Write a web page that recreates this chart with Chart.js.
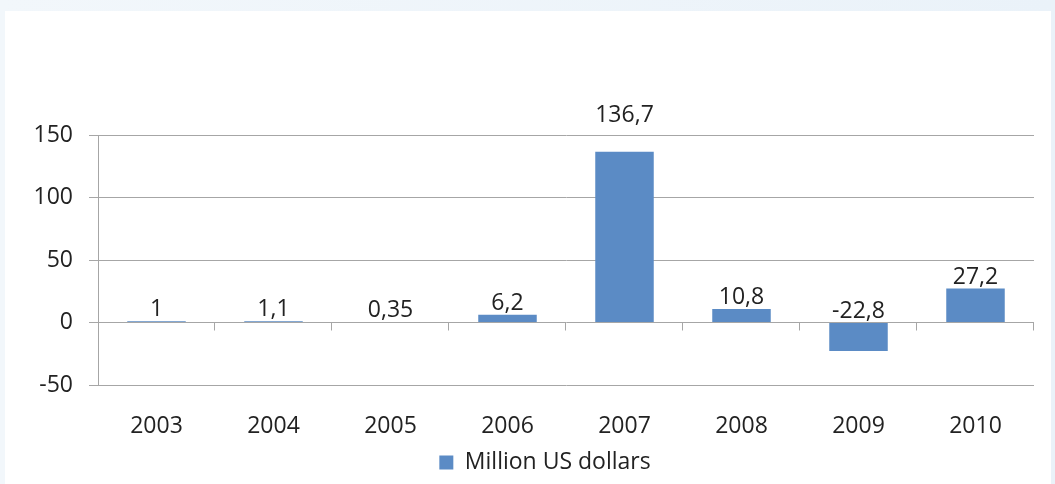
<!DOCTYPE html>
<html>
<head>
<meta charset="utf-8">
<script src="https://cdn.jsdelivr.net/npm/chart.js@4.4.1/dist/chart.umd.min.js"></script>
<style>
  html, body { margin: 0; padding: 0; }
  body { width: 1055px; height: 484px; background: linear-gradient(90deg, #f2f7fb, #eaf2f9); position: relative; overflow: hidden; }
  #paper { position: absolute; left: 5px; top: 11px; width: 1046px; height: 473px; background: #fff; }
  #wrap { position: absolute; left: 0; top: 0; width: 1055px; height: 484px; }
</style>
</head>
<body>
<div id="paper"></div>
<div id="wrap"><canvas id="chart" width="1055" height="484"></canvas></div>
<script>
// data
const years = ["2003", "2004", "2005", "2006", "2007", "2008", "2009", "2010"];
const values = [1, 1.1, 0.35, 6.2, 136.7, 10.8, -22.8, 27.2];
const valueLabels = ["1", "1,1", "0,35", "6,2", "136,7", "10,8", "-22,8", "27,2"];
const seriesName = "Million US dollars";
const yTicks = [-50, 0, 50, 100, 150];

const FONT = "'Open Sans', Lato, sans-serif";
const FSIZE = 23;
const TEXT = "#222";
const GRID = "#a6a6a6";
const PLOT_BOTTOM = 385;

// value labels above each bar (negative ones sit above the zero line)
const barLabels = {
    id: "barLabels",
    afterDatasetsDraw(chart) {
        const ctx = chart.ctx;
        const meta = chart.getDatasetMeta(0);
        const area = chart.chartArea;
        ctx.save();
        ctx.font = FSIZE + "px " + FONT;
        ctx.fillStyle = TEXT;
        ctx.textAlign = "center";
        ctx.textBaseline = "alphabetic";
        meta.data.forEach((bar, i) => {
            let top = Math.min(bar.y, bar.base);
            let y = top - 5;
            // if it would run into the top gridline, lift it above the plot
            if (y - 16 < area.top + 2) y = area.top - 13;
            ctx.fillText(valueLabels[i], bar.x, y);
        });
        ctx.restore();
    }
};

// little category tick marks hanging off the zero line
const zeroTicks = {
    id: "zeroTicks",
    afterDraw(chart) {
        const ctx = chart.ctx;
        const x = chart.scales.x;
        const y0 = chart.scales.y.getPixelForValue(0);
        const w = (x.right - x.left) / years.length;
        ctx.save();
        ctx.strokeStyle = GRID;
        ctx.lineWidth = 1;
        ctx.beginPath();
        for (let i = 1; i <= years.length; i++) {
            let px = Math.round(x.left + i * w) - 0.5;
            ctx.moveTo(px, y0);
            ctx.lineTo(px, y0 + 8);
        }
        ctx.stroke();
        ctx.restore();
    }
};

// legend sits a bit right of centre in the original
const legendShift = {
    id: "legendShift",
    afterLayout(chart) {
        chart.legend.left += 28;
        chart.legend.right += 28;
    }
};

new Chart(document.getElementById("chart"), {
    type: "bar",
    data: {
        labels: years,
        datasets: [{
            label: seriesName,
            data: values,
            backgroundColor: "#5b8bc5",
            borderWidth: 0,
            barPercentage: 0.5,
            categoryPercentage: 1.0
        }]
    },
    options: {
        responsive: false,
        animation: false,
        devicePixelRatio: 1,
        layout: { padding: { top: 135, left: 0, right: 21, bottom: 0 } },
        plugins: {
            legend: {
                position: "bottom",
                labels: {
                    color: TEXT,
                    font: { family: FONT, size: FSIZE },
                    boxWidth: 14,
                    boxHeight: 14,
                    padding: 5
                }
            },
            tooltip: { enabled: false }
        },
        scales: {
            x: {
                grid: { display: false, drawTicks: false },
                border: { display: false },
                afterFit(scale) {
                    let lh = scale.chart.legend ? scale.chart.legend.height : 40;
                    scale.height = scale.chart.height - PLOT_BOTTOM - lh;
                },
                ticks: {
                    color: TEXT,
                    font: { family: FONT, size: FSIZE },
                    padding: 28
                }
            },
            y: {
                min: -50,
                max: 150,
                afterBuildTicks(scale) {
                    scale.ticks = yTicks.map(v => ({ value: v }));
                },
                afterFit(scale) { scale.width = 98; },
                grid: { color: GRID, tickLength: 9, lineWidth: 1 },
                border: { color: GRID },
                ticks: {
                    color: TEXT,
                    font: { family: FONT, size: FSIZE },
                    padding: 16
                }
            }
        }
    },
    plugins: [barLabels, zeroTicks, legendShift]
});
</script>
</body>
</html>
